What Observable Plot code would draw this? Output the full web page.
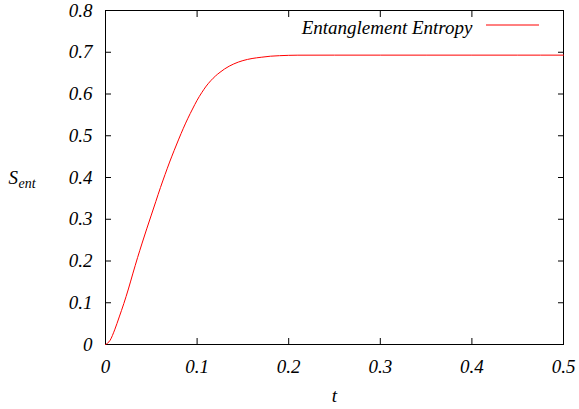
<!DOCTYPE html>
<html>
<head>
<meta charset="utf-8">
<script src="https://cdn.jsdelivr.net/npm/d3@7"></script>
<script src="https://cdn.jsdelivr.net/npm/@observablehq/plot@0.6"></script>
<style>
  html, body { margin: 0; padding: 0; background: #fff; }
</style>
</head>
<body>
<div id="chart"></div>
<script>
const tValues = [0, 0.005, 0.01, 0.015, 0.02, 0.025, 0.03, 0.035, 0.04, 0.045, 0.05, 0.055, 0.06, 0.065, 0.07, 0.075, 0.08, 0.085, 0.09, 0.095, 0.1, 0.105, 0.11, 0.115, 0.12, 0.125, 0.13, 0.14, 0.15, 0.16, 0.17, 0.18, 0.19, 0.2, 0.21, 0.25, 0.3, 0.35, 0.4, 0.45, 0.5];
const sValues = [0, 0.01, 0.035, 0.066, 0.098, 0.133, 0.171, 0.208, 0.243, 0.277, 0.31, 0.343, 0.376, 0.407, 0.437, 0.465, 0.492, 0.518, 0.542, 0.564, 0.585, 0.603, 0.619, 0.632, 0.643, 0.652, 0.66, 0.672, 0.68, 0.685, 0.688, 0.6905, 0.6918, 0.6926, 0.693, 0.6931, 0.6931, 0.6931, 0.6931, 0.6931, 0.6931];
const xTicks = [0, 0.1, 0.2, 0.3, 0.4, 0.5];
const yTicks = [0, 0.1, 0.2, 0.3, 0.4, 0.5, 0.6, 0.7, 0.8];
const seriesName = "Entanglement Entropy";
const xLabel = "t";
const yLabelMain = "S";
const yLabelSub = "ent";

const FONT = "Liberation Serif";
const data = tValues.map((t, i) => ({t, s: sValues[i]}));
const fmt = d => d === 0 ? "0" : String(d);

const legendLine = (index, scales, values, dims) => {
  const x2 = dims.width - dims.marginRight - 24;
  const line = d3.create("svg:line")
    .attr("x1", x2 - 53).attr("x2", x2)
    .attr("y1", dims.marginTop + 15).attr("y2", dims.marginTop + 15)
    .attr("stroke", "#ff0000").attr("stroke-width", 1);
  return line.node();
};

const plot = Plot.plot({
  width: 579,
  height: 409,
  marginLeft: 105,
  marginRight: 16,
  marginTop: 10,
  marginBottom: 65,
  style: {fontFamily: FONT, fontStyle: "italic", fontSize: "19px", color: "#000", background: "#fff"},
  x: {domain: [0, 0.5]},
  y: {domain: [0, 0.8]},
  marks: [
    Plot.frame({stroke: "#000", strokeWidth: 1}),
    Plot.axisX({ticks: xTicks, tickFormat: fmt, tickSize: 0, tickPadding: 15, label: null, anchor: "bottom", fontFamily: FONT}),
    Plot.axisX({ticks: xTicks, tickFormat: () => "", tickSize: -6, label: null, anchor: "bottom"}),
    Plot.axisX({ticks: xTicks, tickFormat: () => "", tickSize: -6, label: null, anchor: "top"}),
    Plot.axisY({ticks: yTicks, tickFormat: fmt, tickSize: 0, tickPadding: 13, label: null, anchor: "left", fontFamily: FONT}),
    Plot.axisY({ticks: yTicks, tickFormat: () => "", tickSize: -6, label: null, anchor: "left"}),
    Plot.axisY({ticks: yTicks, tickFormat: () => "", tickSize: -6, label: null, anchor: "right"}),
    Plot.line(data, {x: "t", y: "s", stroke: "#ff0000", strokeWidth: 1, curve: "monotone-x"}),
    Plot.text([xLabel], {text: d => d, frameAnchor: "bottom", lineAnchor: "bottom", dy: 57, fontFamily: FONT}),
    Plot.text([yLabelMain], {text: d => d, frameAnchor: "left", textAnchor: "start", lineAnchor: "bottom", dx: -97, dy: 6, fontFamily: FONT}),
    Plot.text([yLabelSub], {text: d => d, frameAnchor: "left", textAnchor: "start", lineAnchor: "bottom", dx: -87, dy: 10, fontSize: 14, fontFamily: FONT}),
    Plot.text([seriesName], {text: d => d, frameAnchor: "top-right", textAnchor: "end", lineAnchor: "bottom", dx: -91, dy: 23, fontFamily: FONT}),
    legendLine
  ]
});
function fixFonts() {
  const els = [plot, ...plot.querySelectorAll("text, tspan, g")];
  els.forEach(el => {
    if (el.getAttribute("font-family") !== FONT) el.setAttribute("font-family", FONT);
    if (el.style.getPropertyValue("font-family") !== FONT || el.style.getPropertyPriority("font-family") !== "important") {
      el.style.setProperty("font-family", FONT, "important");
    }
  });
}
fixFonts();
document.getElementById("chart").appendChild(plot);
fixFonts();
new MutationObserver(fixFonts).observe(plot, {attributes: true, subtree: true, attributeFilter: ["style", "font-family"]});
[0, 50, 150, 300, 500, 800, 1200, 2000].forEach(ms => setTimeout(fixFonts, ms));
window.addEventListener("load", fixFonts);
</script>
</body>
</html>
